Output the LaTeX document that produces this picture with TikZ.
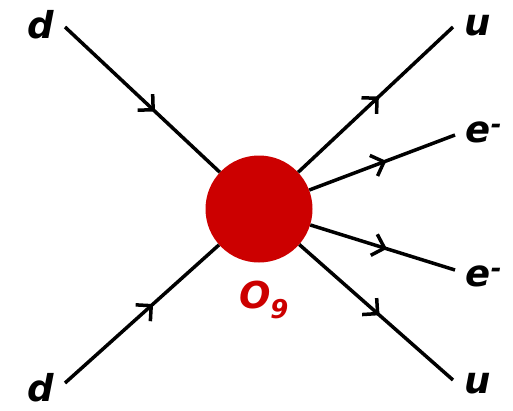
\documentclass[tikz,border=0pt]{standalone}
\usepackage{fontspec}
\setmainfont{DejaVu Sans}
\usetikzlibrary{decorations.markings}
\definecolor{vred}{RGB}{204,0,0}
\begin{document}
\begin{tikzpicture}[x=1pt,y=-1pt,
  fline/.style={line width=3.5pt, postaction={decorate},
    decoration={markings, mark=at position #1 with {\draw[line width=3.5pt] (-9,-11) -- (2,0) -- (-9,11);}}},
  lbl/.style={font=\bfseries\itshape\fontsize{37}{37}\selectfont, inner sep=0pt}]
\useasboundingbox (0,0) rectangle (513,410);
\node[circle, fill=vred, minimum size=107pt, inner sep=0pt] (C) at (259,209) {};
\coordinate (a) at (65,27);
\coordinate (b) at (65,383);
\coordinate (c) at (453,27);
\coordinate (d) at (455,135);
\coordinate (e) at (455,270);
\coordinate (f) at (453,380);
\draw[fline=0.56] (a) -- (C);
\draw[fline=0.55] (b) -- (C);
\draw[fline=0.5] (C) -- (c);
\draw[fline=0.5] (C) -- (d);
\draw[fline=0.5] (C) -- (e);
\draw[fline=0.5] (C) -- (f);
\node[lbl] (la) at (41,25) {d};
\node[lbl] (lb) at (41,388) {d};
\node[lbl] (lc) at (478,26) {u};
\node[lbl] (ld) at (484,132) {e\textsuperscript{-}};
\node[lbl] (le) at (484,276) {e\textsuperscript{-}};
\node[lbl] (lf) at (478,384) {u};
\node[lbl, text=vred] (lo) at (264,300) {O\textsubscript{9}};
\end{tikzpicture}
\end{document}
